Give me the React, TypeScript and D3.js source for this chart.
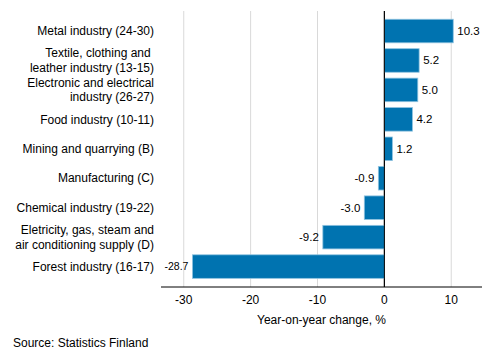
import React from "react";
import * as d3 from "d3";

const categories = [
  ["Metal industry (24-30)"],
  ["Textile, clothing and ", "leather industry (13-15)"],
  ["Electronic and electrical", "industry (26-27)"],
  ["Food industry (10-11)"],
  ["Mining and quarrying (B)"],
  ["Manufacturing (C)"],
  ["Chemical industry (19-22)"],
  ["Eletricity, gas, steam and", "air conditioning supply (D)"],
  ["Forest industry (16-17)"],
];
const values = [10.3, 5.2, 5.0, 4.2, 1.2, -0.9, -3.0, -9.2, -28.7];
const ticks = [-30, -20, -10, 0, 10];

const font = "Arial, 'Liberation Sans', sans-serif";

export default function App() {
  const x = d3.scaleLinear().domain([-33.4, 14.6]).range([161, 482]);
  const y = d3
    .scaleBand<number>()
    .domain(d3.range(values.length))
    .range([16.3, 281.3])
    .paddingInner(0.2)
    .paddingOuter(0.1);
  const axisY = 287;

  return (
    <svg
      width={493}
      height={360}
      style={{ position: "absolute", left: 0, top: 0 }}
      fontFamily={font}
    >
      {ticks.map((t) => (
        <line
          key={"g" + t}
          x1={x(t)}
          x2={x(t)}
          y1={11}
          y2={axisY}
          stroke={t === 0 ? "#000" : "#d9d9d9"}
          strokeWidth={1}
        />
      ))}
      {values.map((v, i) => {
        const x0 = x(Math.min(0, v));
        const w = Math.abs(x(v) - x(0));
        const cy = (y(i) as number) + y.bandwidth() / 2;
        return (
          <g key={i}>
            <rect
              x={x0}
              y={y(i)}
              width={w}
              height={y.bandwidth()}
              fill="#0073b0"
              stroke="#8fc3e0"
              strokeWidth={0.8}
            />
            <text
              x={v >= 0 ? x(v) + 4 : x(v) - 4}
              y={cy}
              dy="0.35em"
              fontSize={v < -20 ? 10.5 : 11.5}
              textAnchor={v >= 0 ? "start" : "end"}
              fill="#000"
            >
              {v.toFixed(1)}
            </text>
          </g>
        );
      })}
      <line x1={x(0)} x2={x(0)} y1={11} y2={axisY} stroke="#000" />
      {categories.map((lines, i) => {
        const cy = (y(i) as number) + y.bandwidth() / 2;
        const lh = 14.5;
        return (
          <text key={"c" + i} x={154} fontSize={12} textAnchor="end" fill="#000">
            {lines.map((l, j) => (
              <tspan
                key={j}
                x={154}
                y={cy + (j - (lines.length - 1) / 2) * lh}
                dy="0.35em"
                style={{ whiteSpace: "pre" }}
              >
                {l}
              </tspan>
            ))}
          </text>
        );
      })}
      <line x1={161} x2={482} y1={axisY} y2={axisY} stroke="#000" />
      {ticks.map((t) => (
        <text
          key={"t" + t}
          x={x(t)}
          y={300}
          dy="0.35em"
          fontSize={12}
          textAnchor="middle"
          fill="#000"
        >
          {t}
        </text>
      ))}
      <text x={321.5} y={320} dy="0.35em" fontSize={12} textAnchor="middle" fill="#000">
        Year-on-year change, %
      </text>
      <text x={13} y={342.5} dy="0.35em" fontSize={12} fill="#000">
        Source: Statistics Finland
      </text>
    </svg>
  );
}
